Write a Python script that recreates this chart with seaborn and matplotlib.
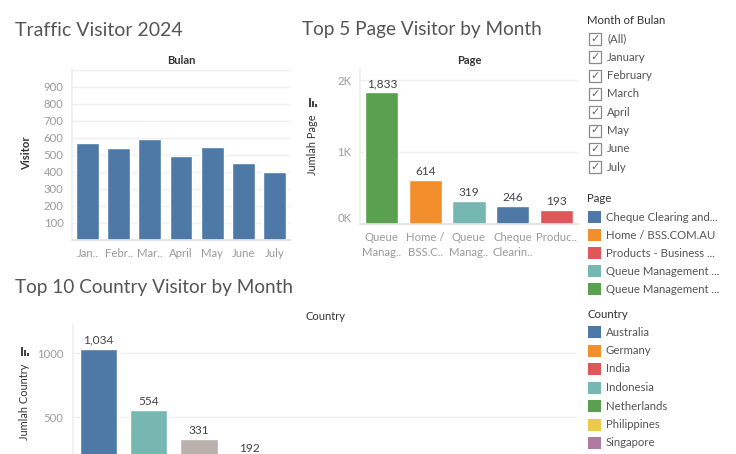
import matplotlib
matplotlib.use("Agg")
import matplotlib.pyplot as plt
import seaborn as sns
import pandas as pd
from matplotlib.patches import Rectangle

# ---------------- data ----------------
months = ["January", "February", "March", "April", "May", "June", "July"]
month_ticks = ["Jan..", "Febr..", "Mar..", "April", "May", "June", "July"]
visitors = [572, 543, 594, 494, 547, 455, 400]

page_keys = ["Queue Management B", "Home / BSS.COM.AU", "Queue Management A",
             "Cheque Clearing", "Products - Business"]
page_ticks = ["Queue\nManag..", "Home /\nBSS.C..", "Queue\nManag..",
              "Cheque\nClearin..", "Produc.."]
page_values = [1833, 614, 319, 246, 193]
page_colors = ["#59A14F", "#F28E2B", "#76B7B2", "#4E79A7", "#E15759"]

page_legend = ["Cheque Clearing and...", "Home / BSS.COM.AU", "Products - Business ...",
               "Queue Management ...", "Queue Management ..."]
page_legend_colors = ["#4E79A7", "#F28E2B", "#E15759", "#76B7B2", "#59A14F"]

countries = ["Australia", "Indonesia", "United States", "India", "Germany",
             "Netherlands", "Philippines", "Singapore", "Thailand", "United Kingdom"]
country_values = [1034, 554, 331, 192, 95, 86, 78, 70, 62, 55]
country_colors = ["#4E79A7", "#76B7B2", "#BAB0AC", "#E15759", "#F28E2B",
                  "#59A14F", "#EDC948", "#B07AA1", "#FF9DA7", "#9C755F"]

country_legend = ["Australia", "Germany", "India", "Indonesia", "Netherlands",
                  "Philippines", "Singapore", "Thailand", "United Kingdom", "United States"]
country_legend_colors = ["#4E79A7", "#F28E2B", "#E15759", "#76B7B2", "#59A14F",
                         "#EDC948", "#B07AA1", "#FF9DA7", "#9C755F", "#BAB0AC"]

filter_items = ["(All)", "January", "February", "March", "April", "May", "June", "July"]

# ---------------- style ----------------
sns.set_theme(style="white")
FONT = ["Lato", "DejaVu Sans"]
plt.rcParams["font.family"] = FONT

W, H = 736, 454
fig = plt.figure(figsize=(W / 100, H / 100), dpi=100)
fig.patch.set_facecolor("white")


def fx(x):
    return x / W


def fy(y):
    return 1 - y / H


def ax_at(x0, x1, y0, y1):
    return fig.add_axes([fx(x0), fy(y1), (x1 - x0) / W, (y1 - y0) / H])


TICK_C = "#9a9a9a"
TEXT_C = "#333333"
TITLE_C = "#555555"
GRID_C = "#efefef"


def style_axes(ax):
    for s in ["top", "right"]:
        ax.spines[s].set_visible(False)
    ax.spines["left"].set_color(GRID_C)
    ax.spines["bottom"].set_color("#e2e2e2")
    ax.tick_params(axis="both", length=0, labelsize=8.2, colors=TICK_C)
    ax.yaxis.grid(True, color=GRID_C, linewidth=1)
    ax.set_axisbelow(True)
    ax.set_xlabel("")
    ax.set_facecolor("white")


def label_bars(ax, values):
    for i, v in enumerate(values):
        ax.annotate(f"{v:,}", (i, v), xytext=(0, 2), textcoords="offset points",
                    ha="center", va="bottom", fontsize=8.6, color="#444444",
                    annotation_clip=True)


def sort_icon(x, y):
    # small Tableau-like sort indicator
    for dx, h in [(0, 9), (3, 6), (6, 3)]:
        fig.add_artist(Rectangle((fx(x + dx), fy(y + 9)), 1.6 / W, h / H,
                                 transform=fig.transFigure, color="#444444", lw=0))

# ---------------- chart 1 ----------------
fig.text(fx(15), fy(30), "Traffic Visitor 2024", fontsize=14, color=TITLE_C, va="center")
fig.text(fx(181), fy(61), "Bulan", fontsize=8, color=TEXT_C, ha="center", va="center",
         weight="bold")
ax1 = ax_at(72, 290, 69, 240)
df1 = pd.DataFrame({"Bulan": months, "Visitor": visitors})
sns.barplot(data=df1, x="Bulan", y="Visitor", color="#4E79A7", width=0.73, ax=ax1,
            saturation=1)
style_axes(ax1)
ax1.set_ylim(0, 1005)
ax1.set_yticks(range(100, 1001, 100))
ax1.set_yticklabels([str(v) for v in range(100, 1000, 100)] + [""])
ax1.set_xticks(range(len(months)))
ax1.set_xticklabels(month_ticks)
ax1.tick_params(axis="x", pad=6)
ax1.tick_params(axis="y", pad=6)
ax1.set_ylabel("")
fig.text(fx(27), fy(153), "Visitor", rotation=90, fontsize=8.2, color=TEXT_C,
         ha="center", va="center", weight="bold")

# ---------------- chart 2 ----------------
fig.text(fx(302), fy(30), "Top 5 Page Visitor by Month", fontsize=13.7, color=TITLE_C,
         va="center")
fig.text(fx(469), fy(61), "Page", fontsize=8, color=TEXT_C, ha="center", va="center",
         weight="bold")
ax2 = ax_at(360, 578, 69, 223.5)
df2 = pd.DataFrame({"Page": page_keys, "Jumlah": page_values})
sns.barplot(data=df2, x="Page", y="Jumlah", hue="Page",
            palette=dict(zip(page_keys, page_colors)), legend=False, width=0.76,
            ax=ax2, saturation=1)
style_axes(ax2)
ax2.set_ylim(0, 2160)
ax2.set_yticks([0, 1000, 2000])
ax2.set_yticklabels(["0K", "1K", "2K"])
ax2.get_yticklabels()[0].set_va("bottom")
ax2.set_xticks(range(len(page_keys)))
ax2.set_xticklabels(page_ticks, linespacing=1.45, va="top")
ax2.tick_params(axis="x", pad=6)
ax2.tick_params(axis="y", pad=6)
ax2.set_ylabel("")
label_bars(ax2, page_values)
fig.text(fx(313), fy(145), "Jumlah Page", rotation=90, fontsize=7.9, color=TEXT_C,
         ha="center", va="center")
sort_icon(309, 98)

# ---------------- chart 3 ----------------
fig.text(fx(15), fy(287), "Top 10 Country Visitor by Month", fontsize=13.7, color=TITLE_C,
         va="center")
fig.text(fx(325), fy(317), "Country", fontsize=8, color=TEXT_C, ha="center", va="center")
ax3 = ax_at(73, 577, 325, 481)
df3 = pd.DataFrame({"Country": countries, "Jumlah": country_values})
sns.barplot(data=df3, x="Country", y="Jumlah", hue="Country",
            palette=dict(zip(countries, country_colors)), legend=False, width=0.74,
            ax=ax3, saturation=1)
style_axes(ax3)
ax3.set_ylim(0, 1219)
ax3.set_yticks([500, 1000])
ax3.set_yticklabels(["500", "1000"])
ax3.tick_params(axis="y", pad=7)
ax3.set_xticks(range(len(countries)))
ax3.set_xticklabels([])  # country names fall below the visible area
ax3.set_ylabel("")
label_bars(ax3, country_values[:4])
fig.text(fx(25), fy(402), "Jumlah Country", rotation=90, fontsize=7.9, color=TEXT_C,
         ha="center", va="center")
sort_icon(21, 347)

# ---------------- filter / legends ----------------
fig.text(fx(587), fy(20), "Month of Bulan", fontsize=8.2, color=TEXT_C, va="center")
for i, name in enumerate(filter_items):
    yc = 39 + i * 18.3
    fig.add_artist(Rectangle((fx(589), fy(yc + 6)), 12 / W, 12 / H,
                             transform=fig.transFigure, facecolor="white",
                             edgecolor="#8a8a8a", lw=0.9))
    fig.text(fx(595), fy(yc), "\u2713", fontsize=8, color="#666666", ha="center",
             va="center", family=["DejaVu Sans"])
    fig.text(fx(607), fy(yc), name, fontsize=8.2, color="#555555", va="center")


def legend_block(title, ty, labels, colors, y0, step):
    fig.text(fx(587), fy(ty), title, fontsize=8.2, color=TEXT_C, va="center")
    for i, (lab, col) in enumerate(zip(labels, colors)):
        yc = y0 + i * step
        if yc + 6 > H:
            break  # remaining entries lie below the visible area
        fig.add_artist(Rectangle((fx(588), fy(yc + 6)), 13 / W, 12 / H,
                                 transform=fig.transFigure, color=col, lw=0))
        fig.text(fx(606), fy(yc), lab, fontsize=8.2, color="#555555", va="center")


legend_block("Page", 198, page_legend, page_legend_colors, 217, 18.1)
legend_block("Country", 314, country_legend, country_legend_colors, 332, 18.5)

fig.savefig("out.png", dpi=100, facecolor="white")
